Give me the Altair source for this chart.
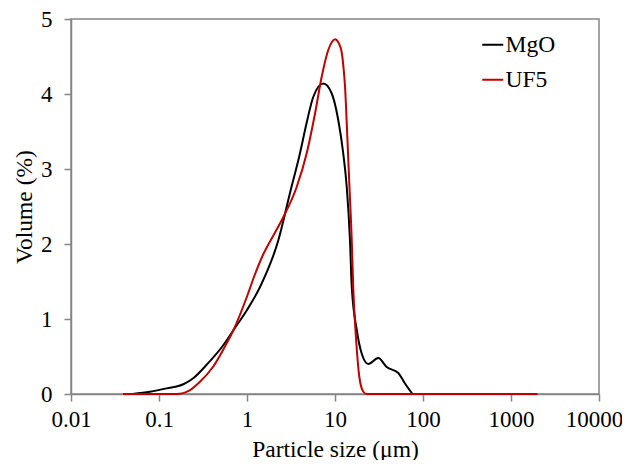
import altair as alt
import pandas as pd

mgo_x = [0.05, 0.079, 0.122, 0.189, 0.245, 0.348, 0.537, 0.70, 1.0, 1.41, 2.27, 3.08,
         4.0, 4.77, 5.66, 7.36, 9.16, 10.9, 12.4, 13.6, 14.8, 15.5, 17.7, 20.1, 23.9,
         31.0, 38.6, 52.4, 62.4, 76.0]
mgo_y = [0.0, 0.03, 0.075, 0.13, 0.21, 0.39, 0.65, 0.85, 1.12, 1.43, 2.05, 2.68,
         3.21, 3.62, 3.96, 4.14, 4.01, 3.65, 3.21, 2.76, 2.05, 1.43, 0.85, 0.54, 0.40,
         0.48, 0.36, 0.28, 0.14, 0.0]

uf5_x = [0.039, 0.158, 0.225, 0.29, 0.41, 0.59, 0.70, 1.0, 1.2, 1.5, 1.9, 2.59, 3.67,
         4.77, 5.93, 7.06, 8.4, 9.3, 10.0, 11.0, 11.9, 12.5, 13.0, 13.8, 14.6, 15.5, 16.1,
         17.3, 18.9, 21.0, 23.0, 2000.0]
uf5_y = [0.0, 0.0, 0.053, 0.16, 0.36, 0.68, 0.85, 1.30, 1.56, 1.84, 2.07, 2.36, 2.76,
         3.21, 3.74, 4.23, 4.59, 4.70, 4.73, 4.68, 4.56, 4.35, 4.10, 3.43, 2.76, 2.05, 1.43,
         0.76, 0.23, 0.03, 0.0, 0.0]

series = ["MgO", "UF5"]
colors = ["#000000", "#C00000"]
x_ticks = [0.01, 0.1, 1, 10, 100, 1000, 10000]
y_ticks = [0, 1, 2, 3, 4, 5]

df = pd.concat([
    pd.DataFrame({"size": mgo_x, "vol": mgo_y, "s": "MgO", "o": range(len(mgo_x))}),
    pd.DataFrame({"size": uf5_x, "vol": uf5_y, "s": "UF5", "o": range(len(uf5_x))}),
])

FONT = "Liberation Serif"
AX = "#858585"

chart = alt.Chart(df).mark_line(strokeWidth=2, interpolate="monotone").encode(
    x=alt.X("size:Q",
            scale=alt.Scale(type="log", domain=[0.01, 10000], nice=False),
            axis=alt.Axis(values=x_ticks, labelExpr="'' + datum.value", title="Particle size (μm)",
                          grid=False, tickSize=7, labelPadding=7, titlePadding=6,
                          labelFlush=False, labelOverlap=False, labelBound=False,
                          labelOffset={"condition": {"test": "datum.value >= 10000", "value": -5},
                                       "value": 0})),
    y=alt.Y("vol:Q", scale=alt.Scale(domain=[0, 5], nice=False),
            axis=alt.Axis(values=y_ticks, title="Volume (%)", grid=False, tickSize=7,
                          labelPadding=12, titlePadding=4)),
    color=alt.Color("s:N", scale=alt.Scale(domain=series, range=colors),
                    legend=alt.Legend(title=None, orient="none", legendX=410, legendY=14,
                                      symbolType="stroke", symbolSize=441, symbolStrokeWidth=2,
                                      labelFontSize=23.5, labelFont=FONT, labelColor="#000",
                                      labelOffset=1, rowPadding=10)),
    order="o:Q",
).properties(width=528, height=375).configure_axis(
    domainColor=AX, domainWidth=1.5, tickColor=AX, tickWidth=1.5,
    labelFont=FONT, labelFontSize=23, labelColor="#000",
    titleFont=FONT, titleFontSize=23.5, titleFontWeight="normal", titleColor="#000",
).configure_view(stroke=AX, strokeWidth=1.5).properties(
    autosize=alt.AutoSizeParams(type="none"),
    padding={"left": 63, "top": 11, "right": 23, "bottom": 66},
)

chart.save("out.html", embed_options={"renderer": "svg", "actions": False})
